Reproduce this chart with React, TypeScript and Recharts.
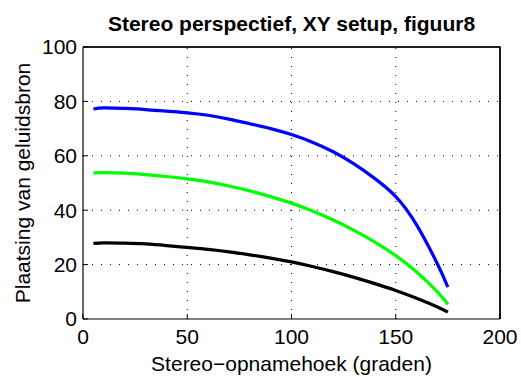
import { LineChart, Line, XAxis, YAxis, ReferenceLine, Label } from "recharts";

// source angle readings (degrees) and source position per curve
const HOEK = [5, 10, 20, 30, 40, 50, 60, 70, 80, 90, 100, 110, 120, 130, 140, 150, 160, 170, 175];
const BLAUW = [77.2, 77.6, 77.4, 77.0, 76.4, 75.8, 74.9, 73.5, 71.8, 70.0, 67.8, 65.0, 61.5, 57.0, 51.6, 45.0, 34.6, 20.2, 11.7];
const GROEN = [53.7, 53.8, 53.6, 53.1, 52.4, 51.5, 50.4, 48.9, 47.1, 45.0, 42.6, 39.7, 36.4, 32.6, 28.3, 23.3, 17.3, 10.0, 5.4];
const ZWART = [27.8, 28.0, 27.9, 27.6, 27.0, 26.3, 25.6, 24.7, 23.6, 22.4, 21.0, 19.3, 17.4, 15.3, 13.0, 10.5, 7.6, 4.4, 2.5];

const X_TICKS = [0, 50, 100, 150, 200];
const Y_TICKS = [0, 20, 40, 60, 80, 100];

const FONT = '"Liberation Sans", Arial, Helvetica, sans-serif';

// layout
const W = 521;
const H = 377;
const M_TOP = 47;
const M_RIGHT = 21;
const Y_AXIS_W = 83;
const X_AXIS_H = 58;

const data = HOEK.map((h, i) => ({ hoek: h, blauw: BLAUW[i], groen: GROEN[i], zwart: ZWART[i] }));

// eslint-disable-next-line @typescript-eslint/no-explicit-any
function YTitle({ viewBox }: any) {
  const cy = viewBox.y + viewBox.height / 2;
  return (
    <text
      x={30}
      y={cy}
      transform={`rotate(-90 30 ${cy})`}
      textAnchor="middle"
      fontSize={21}
      fontFamily={FONT}
      fill="#000"
    >
      Plaatsing van geluidsbron
    </text>
  );
}

export default function App() {
  const tickStyle = { fontSize: 21, fill: "#000", fontFamily: FONT };
  const frame = { stroke: "#000", strokeWidth: 1.2 };
  const right = W - M_RIGHT;
  const bottom = H - X_AXIS_H;
  return (
    <div style={{ position: "absolute", left: 0, top: 0, width: W, height: H, background: "#fff" }}>
      <LineChart width={W} height={H} data={data} margin={{ top: M_TOP, right: M_RIGHT, left: 0, bottom: 0 }}>
        {/* dotted grid */}
        {X_TICKS.slice(1, -1).map((t) => (
          <ReferenceLine key={"gx" + t} xAxisId="b" yAxisId="l" x={t} stroke="#000" strokeDasharray="1 8" strokeWidth={1} />
        ))}
        {Y_TICKS.slice(1, -1).map((t) => (
          <ReferenceLine key={"gy" + t} xAxisId="b" yAxisId="l" y={t} stroke="#000" strokeDasharray="1 8" strokeWidth={1} />
        ))}
        <ReferenceLine xAxisId="b" yAxisId="l" y={100} ifOverflow="visible" {...frame} />
        <ReferenceLine xAxisId="b" yAxisId="l" x={200} ifOverflow="visible" {...frame} />
        <XAxis
          xAxisId="b"
          dataKey="hoek"
          type="number"
          domain={[0, 200]}
          ticks={X_TICKS}
          height={X_AXIS_H}
          tickSize={-5}
          tickMargin={15}
          tick={tickStyle}
          axisLine={frame}
          tickLine={{ stroke: "#000" }}
          interval={0}
        >
          <Label
            value="Stereo−opnamehoek (graden)"
            position="insideBottom"
            offset={6}
            style={{ fontSize: 21, fill: "#000", fontFamily: FONT }}
          />
        </XAxis>
        <YAxis
          yAxisId="l"
          type="number"
          domain={[0, 100]}
          ticks={Y_TICKS}
          width={Y_AXIS_W}
          tickSize={-5}
          tickMargin={11}
          tick={tickStyle}
          axisLine={frame}
          tickLine={{ stroke: "#000" }}
          interval={0}
        >
          <Label content={<YTitle />} />
        </YAxis>
        <Line xAxisId="b" yAxisId="l" type="natural" dataKey="blauw" stroke="#0000ff" strokeWidth={3.2} dot={false} isAnimationActive={false} />
        <Line xAxisId="b" yAxisId="l" type="natural" dataKey="groen" stroke="#00ff00" strokeWidth={3.2} dot={false} isAnimationActive={false} />
        <Line xAxisId="b" yAxisId="l" type="natural" dataKey="zwart" stroke="#000000" strokeWidth={3.2} dot={false} isAnimationActive={false} />
      </LineChart>
      {/* title and the top/right edges of the axes box */}
      <svg width={W} height={H} style={{ position: "absolute", left: 0, top: 0, pointerEvents: "none" }}>
        <text x={291.5} y={31} textAnchor="middle" fontSize={21} fontWeight="bold" fontFamily={FONT} fill="#000">
          Stereo perspectief, XY setup, figuur8
        </text>
        <path
          d={`M${Y_AXIS_W},${M_TOP} H${right} V${bottom}`}
          fill="none"
          stroke="#000"
          strokeWidth={1.5}
        />
      </svg>
    </div>
  );
}
